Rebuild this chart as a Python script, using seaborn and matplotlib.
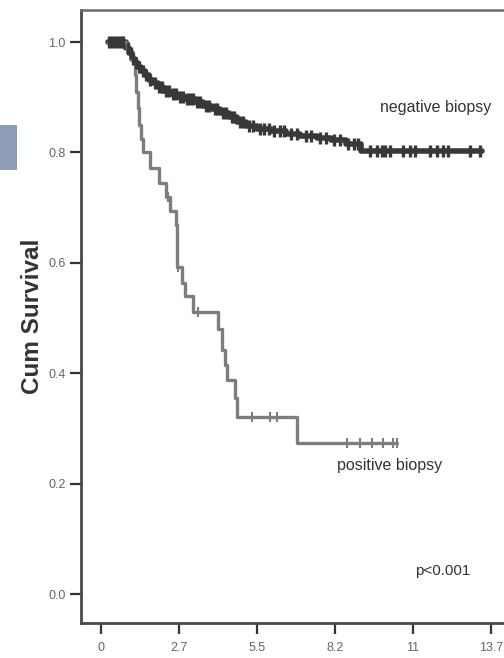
import numpy as np
import pandas as pd
import matplotlib
matplotlib.use("Agg")
import matplotlib.pyplot as plt
import seaborn as sns
from matplotlib.patches import Rectangle

# ---- data ----
neg_times = [0.25, 0.9, 1.0, 1.1, 1.2, 1.3, 1.4, 1.55, 1.7, 1.85, 2.0, 2.2, 2.45, 2.7, 3.0,
             3.3, 3.6, 3.9, 4.2, 4.5, 4.8, 5.1, 5.5, 6.0, 6.5, 7.0, 7.6, 8.1, 8.6, 9.15, 13.38]
neg_surv = [1.0, 0.99, 0.98, 0.97, 0.962, 0.955, 0.948, 0.94, 0.932, 0.925, 0.919, 0.912, 0.905,
            0.90, 0.896, 0.892, 0.884, 0.878, 0.872, 0.864, 0.855, 0.848, 0.842, 0.838, 0.834,
            0.83, 0.826, 0.822, 0.816, 0.803, 0.803]
neg_censor = [0.3, 0.4, 0.5, 0.6, 0.7, 0.8, 0.95, 1.05, 1.15, 1.25, 1.35, 1.5, 1.6, 1.75, 1.9,
              2.05, 2.15, 2.3, 2.4, 2.55, 2.65, 2.8, 2.9, 3.05, 3.15, 3.25, 3.4, 3.5, 3.7, 3.8,
              4.0, 4.1, 4.3, 4.4, 4.6, 4.7, 4.9, 5.0, 5.2, 5.35, 5.6, 5.75, 5.9, 6.1, 6.3, 6.45,
              6.7, 6.9, 7.2, 7.4, 7.7, 7.9, 8.2, 8.4, 8.7, 8.9, 9.05, 9.46, 9.69, 9.87, 9.99,
              10.16, 10.63, 10.86, 11.04, 11.57, 11.8, 12.03, 12.21, 12.97, 13.32]

pos_times = [0.25, 0.92, 1.05, 1.2, 1.25, 1.3, 1.36, 1.42, 1.48, 1.73, 2.06, 2.29, 2.43, 2.64,
             2.68, 2.85, 2.96, 3.25, 4.13, 4.25, 4.35, 4.42, 4.72, 4.78, 6.88, 10.4]
pos_surv = [1.0, 0.985, 0.97, 0.94, 0.91, 0.88, 0.85, 0.825, 0.80, 0.771, 0.744, 0.72, 0.693,
            0.668, 0.593, 0.563, 0.539, 0.511, 0.481, 0.442, 0.415, 0.388, 0.355, 0.321, 0.273,
            0.273]
pos_censor = [2.37, 2.73, 3.43, 5.30, 5.95, 6.18, 8.64, 9.11, 9.52, 9.93, 10.28, 10.4]

x_ticks = [0, 2.74, 5.48, 8.22, 10.96, 13.7]
x_tick_labels = ["0", "2.7", "5.5", "8.2", "11", "13.7"]
y_ticks = [0.0, 0.2, 0.4, 0.6, 0.8, 1.0]
y_tick_labels = ["0.0", "0.2", "0.4", "0.6", "0.8", "1.0"]


def surv_at(times, surv, t):
    idx = np.searchsorted(np.asarray(times), np.asarray(t), side="right") - 1
    return np.asarray(surv)[idx]


neg_df = pd.DataFrame({"t": neg_times, "s": neg_surv})
pos_df = pd.DataFrame({"t": pos_times, "s": pos_surv})
neg_c = pd.DataFrame({"t": neg_censor, "s": surv_at(neg_times, neg_surv, neg_censor)})
pos_c = pd.DataFrame({"t": pos_censor, "s": surv_at(pos_times, pos_surv, pos_censor)})

sns.set_theme(style="white")
narrow = ["Liberation Sans Narrow", "Liberation Sans", "DejaVu Sans"]
plt.rcParams["font.family"] = narrow

W, H = 504, 658
fig = plt.figure(figsize=(W / 100, H / 100), dpi=100)
ax_left, ax_right, ax_top, ax_bot = 81, 520, 10, 623
ax = fig.add_axes([ax_left / W, (H - ax_bot) / H, (ax_right - ax_left) / W, (ax_bot - ax_top) / H])

neg_col = "#383838"
pos_col = "#7d7d7d"

sns.lineplot(data=neg_df, x="t", y="s", drawstyle="steps-post", color=neg_col,
             linewidth=4.0, ax=ax, estimator=None, sort=False)
sns.scatterplot(data=neg_c, x="t", y="s", marker="|", s=80, linewidth=2.4,
                color=neg_col, edgecolor=neg_col, ax=ax, zorder=3)
sns.lineplot(data=pos_df, x="t", y="s", drawstyle="steps-post", color=pos_col,
             linewidth=2.4, ax=ax, estimator=None, sort=False)
sns.scatterplot(data=pos_c, x="t", y="s", marker="|", s=55, linewidth=1.5,
                color=pos_col, edgecolor=pos_col, ax=ax, zorder=3)

ax.set_xlim(-0.69, (ax_right - 100.7) / 28.47)
ax.set_ylim(-0.0525, 1.058)
ax.set_xticks(x_ticks)
ax.set_xticklabels(x_tick_labels)
ax.set_yticks(y_ticks)
ax.set_yticklabels(y_tick_labels)
ax.tick_params(axis="both", direction="out", length=8, width=1.6, color="#333333",
               labelsize=9, labelcolor="#666666", bottom=True, left=True)
ax.tick_params(axis="x", pad=6)
ax.tick_params(axis="y", pad=3)
ax.set_xlabel("")
ax.set_ylabel("Cum Survival", fontsize=17.5, fontweight="bold", color="#333333",
              family=["Liberation Sans", "DejaVu Sans"])
ax.yaxis.set_label_coords(-(81 - 44) / (ax_right - ax_left), 0.5)

for side in ["left", "bottom"]:
    ax.spines[side].set_color("#4a4a4a")
    ax.spines[side].set_linewidth(2.0)
ax.spines["top"].set_color("#6a6a6a")
ax.spines["top"].set_linewidth(1.8)
ax.spines["right"].set_visible(False)

ax.text(11.78, 0.882, "negative biopsy", fontsize=11.5, color="#333333", ha="center", va="center")
ax.text(10.16, 0.232, "positive biopsy", fontsize=11.5, color="#333333", ha="center", va="center")
ax.text(12.0, 0.041, "p<0.001", fontsize=11, color="#333333", ha="center", va="center")

fig.patches.append(Rectangle((0, (H - 170) / H), 17 / W, 45 / H, transform=fig.transFigure,
                             facecolor="#8e9cb6", edgecolor="none"))

fig.savefig("out.png", dpi=100)
